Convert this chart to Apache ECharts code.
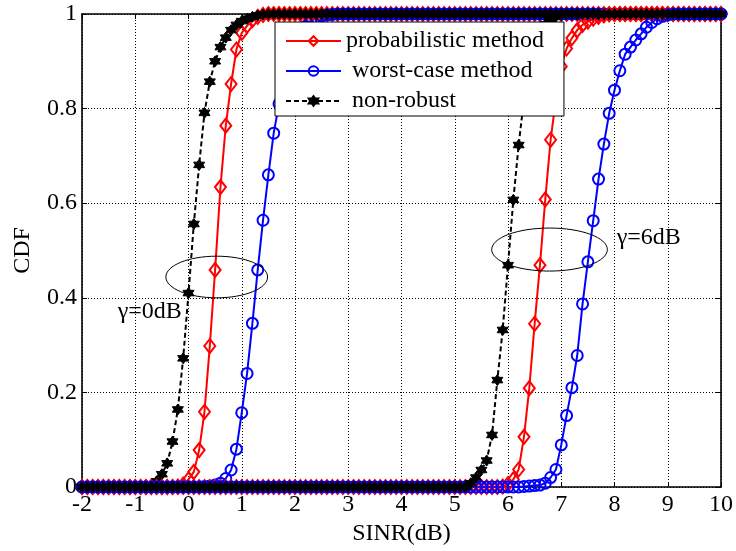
<!DOCTYPE html>
<html><head><meta charset="utf-8">
<script src="https://cdn.jsdelivr.net/npm/echarts@6/dist/echarts.min.js"></script>
<style>html,body{margin:0;padding:0;background:#fff}#c{width:736px;height:551px}</style>
</head><body><div id="c"></div>
<script>
// SINR grid (dB)
const sinr = [
 -2,-1.9,-1.8,-1.7,-1.6,-1.5,-1.4,-1.3,-1.2,-1.1,
 -1,-0.9,-0.8,-0.7,-0.6,-0.5,-0.4,-0.3,-0.2,-0.1,
 0,0.1,0.2,0.3,0.4,0.5,0.6,0.7,0.8,0.9,
 1,1.1,1.2,1.3,1.4,1.5,1.6,1.7,1.8,1.9,
 2,2.1,2.2,2.3,2.4,2.5,2.6,2.7,2.8,2.9,
 3,3.1,3.2,3.3,3.4,3.5,3.6,3.7,3.8,3.9,
 4,4.1,4.2,4.3,4.4,4.5,4.6,4.7,4.8,4.9,
 5,5.1,5.2,5.3,5.4,5.5,5.6,5.7,5.8,5.9,
 6,6.1,6.2,6.3,6.4,6.5,6.6,6.7,6.8,6.9,
 7,7.1,7.2,7.3,7.4,7.5,7.6,7.7,7.8,7.9,
 8,8.1,8.2,8.3,8.4,8.5,8.6,8.7,8.8,8.9,
 9,9.1,9.2,9.3,9.4,9.5,9.6,9.7,9.8,9.9,
 10];

// gamma = 0 dB
const probabilistic0 = [
 0,0,0,0,0,0,0,0,0,0,
 0,0,0,0,0,0,0,0,0.001,0.005,
 0.016,0.032,0.078,0.159,0.298,0.459,0.634,0.764,0.852,0.925,
 0.96,0.975,0.987,0.994,0.998,1,1,1,1,1,
 1,1,1,1,1,1,1,1,1,1,
 1,1,1,1,1,1,1,1,1,1,
 1,1,1,1,1,1,1,1,1,1,
 1,1,1,1,1,1,1,1,1,1,
 1,1,1,1,1,1,1,1,1,1,
 1,1,1,1,1,1,1,1,1,1,
 1,1,1,1,1,1,1,1,1,1,
 1,1,1,1,1,1,1,1,1,1,
 1];
const worstCase0 = [
 0,0,0,0,0,0,0,0,0,0,
 0,0,0,0,0,0,0,0,0,0,
 0,0,0,0.001,0.002,0.004,0.008,0.018,0.036,0.08,
 0.157,0.24,0.346,0.459,0.564,0.66,0.748,0.81,0.865,0.905,
 0.935,0.958,0.974,0.985,0.992,0.996,0.998,0.999,1,1,
 1,1,1,1,1,1,1,1,1,1,
 1,1,1,1,1,1,1,1,1,1,
 1,1,1,1,1,1,1,1,1,1,
 1,1,1,1,1,1,1,1,1,1,
 1,1,1,1,1,1,1,1,1,1,
 1,1,1,1,1,1,1,1,1,1,
 1,1,1,1,1,1,1,1,1,1,
 1];
const nonRobust0 = [
 0,0,0,0,0,0,0,0,0,0,
 0,0,0.001,0.004,0.012,0.027,0.05,0.096,0.164,0.272,
 0.41,0.556,0.681,0.791,0.857,0.9,0.93,0.95,0.966,0.977,
 0.985,0.99,0.994,0.997,0.999,1,1,1,1,1,
 1,1,1,1,1,1,1,1,1,1,
 1,1,1,1,1,1,1,1,1,1,
 1,1,1,1,1,1,1,1,1,1,
 1,1,1,1,1,1,1,1,1,1,
 1,1,1,1,1,1,1,1,1,1,
 1,1,1,1,1,1,1,1,1,1,
 1,1,1,1,1,1,1,1,1,1,
 1,1,1,1,1,1,1,1,1,1,
 1];

// gamma = 6 dB
const probabilistic6 = [
 0,0,0,0,0,0,0,0,0,0,
 0,0,0,0,0,0,0,0,0,0,
 0,0,0,0,0,0,0,0,0,0,
 0,0,0,0,0,0,0,0,0,0,
 0,0,0,0,0,0,0,0,0,0,
 0,0,0,0,0,0,0,0,0,0,
 0,0,0,0,0,0,0,0,0,0,
 0,0,0,0,0,0,0,0,0,0.001,
 0.006,0.016,0.037,0.106,0.209,0.345,0.469,0.608,0.734,0.82,
 0.889,0.927,0.949,0.966,0.977,0.984,0.99,0.994,0.997,0.999,
 1,1,1,1,1,1,1,1,1,1,
 1,1,1,1,1,1,1,1,1,1,
 1];
const worstCase6 = [
 0,0,0,0,0,0,0,0,0,0,
 0,0,0,0,0,0,0,0,0,0,
 0,0,0,0,0,0,0,0,0,0,
 0,0,0,0,0,0,0,0,0,0,
 0,0,0,0,0,0,0,0,0,0,
 0,0,0,0,0,0,0,0,0,0,
 0,0,0,0,0,0,0,0,0,0,
 0,0,0,0,0,0,0,0,0,0,
 0,0,0,0.001,0.002,0.003,0.004,0.008,0.02,0.037,
 0.089,0.151,0.21,0.278,0.387,0.476,0.563,0.651,0.725,0.79,
 0.839,0.88,0.915,0.93,0.945,0.958,0.972,0.982,0.99,0.995,
 0.998,1,1,1,1,1,1,1,1,1,
 1];
const nonRobust6 = [
 0,0,0,0,0,0,0,0,0,0,
 0,0,0,0,0,0,0,0,0,0,
 0,0,0,0,0,0,0,0,0,0,
 0,0,0,0,0,0,0,0,0,0,
 0,0,0,0,0,0,0,0,0,0,
 0,0,0,0,0,0,0,0,0,0,
 0,0,0,0,0,0,0,0,0,0,
 0,0,0,0.008,0.02,0.036,0.056,0.11,0.226,0.332,
 0.469,0.607,0.723,0.82,0.89,0.935,0.962,0.978,0.988,0.995,
 0.998,1,1,1,1,1,1,1,1,1,
 1,1,1,1,1,1,1,1,1,1,
 1,1,1,1,1,1,1,1,1,1,
 1];

const legendNames = ['probabilistic method', ' worst-case method', ' non-robust'];
const annotationTexts = [
  {text: 'γ=0dB', x: -1.33, y: 0.37},
  {text: 'γ=6dB', x: 8.04, y: 0.526}
];
const ellipses = [
  {cx: 0.53, cy: 0.444, rx: 0.955, ry: 0.044},
  {cx: 6.78, cy: 0.502, rx: 1.086, ry: 0.0455}
];

const FONT = '"Liberation Serif", "Times New Roman", serif';
const hexagram = 'path://M0,-10 L3.2,-5 L8.66,-5 L6,0 L8.66,5 L3.2,5 L0,10 L-3.2,5 L-8.66,5 L-6,0 L-8.66,-5 L-3.2,-5 Z';

function mk(name, ys, color, symbol, size, filled, dashed) {
  return {
    type: 'line', name: name,
    data: sinr.map((x, i) => [x, ys[i]]),
    symbol: symbol, symbolSize: size, clip: false, animation: false,
    lineStyle: {color: color, width: 2, type: dashed ? [5, 3] : 'solid'},
    itemStyle: filled ? {color: color, borderColor: color, borderWidth: 1}
                      : {color: 'rgba(255,255,255,0)', borderColor: color, borderWidth: 2},
    emphasis: {disabled: true}
  };
}

const chart = echarts.init(document.getElementById('c'), null, {renderer: 'canvas'});
const axisCommon = {
  axisLine: {show: true, onZero: false, lineStyle: {color: '#000', width: 1.6}},
  axisTick: {show: true, inside: true, length: 5, lineStyle: {color: '#000', width: 1}}
};
chart.setOption({
  animation: false,
  backgroundColor: '#fff',
  grid: {left: 82, right: 13, top: 14, bottom: 64, containLabel: false},
  legend: {
    data: legendNames, left: 275, top: 22, orient: 'vertical',
    itemWidth: 55, itemHeight: 12, itemGap: 6,
    padding: [7, 20, 3, 10],
    backgroundColor: '#fff', borderColor: '#000', borderWidth: 1,
    textStyle: {fontFamily: FONT, fontSize: 24, color: '#000'},
    selectedMode: false
  },
  xAxis: [
    Object.assign({
      type: 'value', min: -2, max: 10, interval: 1, position: 'bottom',
      axisLabel: {color: '#000', fontFamily: FONT, fontSize: 24, margin: 6},
      splitLine: {show: true, lineStyle: {color: '#000', width: 1, type: [1, 2]}},
      name: 'SINR(dB)', nameLocation: 'middle', nameGap: 32,
      nameTextStyle: {color: '#000', fontFamily: FONT, fontSize: 24}
    }, axisCommon),
    Object.assign({
      type: 'value', min: -2, max: 10, interval: 1, position: 'top',
      axisLabel: {show: false}, splitLine: {show: false}
    }, axisCommon)
  ],
  yAxis: [
    Object.assign({
      type: 'value', min: 0, max: 1, interval: 0.2, position: 'left',
      axisLabel: {color: '#000', fontFamily: FONT, fontSize: 24, margin: 5},
      splitLine: {show: true, lineStyle: {color: '#000', width: 1, type: [1, 2]}},
      name: 'CDF', nameLocation: 'middle', nameGap: 47,
      nameTextStyle: {color: '#000', fontFamily: FONT, fontSize: 24}
    }, axisCommon),
    Object.assign({
      type: 'value', min: 0, max: 1, interval: 0.2, position: 'right',
      axisLabel: {show: false}, splitLine: {show: false}
    }, axisCommon)
  ],
  series: [
    mk(legendNames[0], probabilistic0, '#ff0000', 'diamond', [11, 14], false, false),
    mk(legendNames[1], worstCase0, '#0000ff', 'circle', 11, false, false),
    mk(legendNames[2], nonRobust0, '#000000', hexagram, 11, true, true),
    mk(legendNames[0], probabilistic6, '#ff0000', 'diamond', [11, 14], false, false),
    mk(legendNames[1], worstCase6, '#0000ff', 'circle', 11, false, false),
    mk(legendNames[2], nonRobust6, '#000000', hexagram, 11, true, true)
  ]
});

function px(x, y) { return chart.convertToPixel({xAxisIndex: 0, yAxisIndex: 0}, [x, y]); }
const graphics = [];
ellipses.forEach(e => {
  const c = px(e.cx, e.cy);
  const r = px(e.cx + e.rx, e.cy + e.ry);
  graphics.push({
    type: 'ellipse', z: 100,
    shape: {cx: c[0], cy: c[1], rx: Math.abs(r[0] - c[0]), ry: Math.abs(c[1] - r[1])},
    style: {fill: 'none', stroke: '#000', lineWidth: 1}
  });
});
annotationTexts.forEach(a => {
  const p = px(a.x, a.y);
  graphics.push({
    type: 'text', z: 100, x: p[0], y: p[1],
    style: {text: a.text, font: '24px ' + FONT, fill: '#000', verticalAlign: 'middle', align: 'left'}
  });
});
chart.setOption({graphic: graphics});
</script>
</body></html>
